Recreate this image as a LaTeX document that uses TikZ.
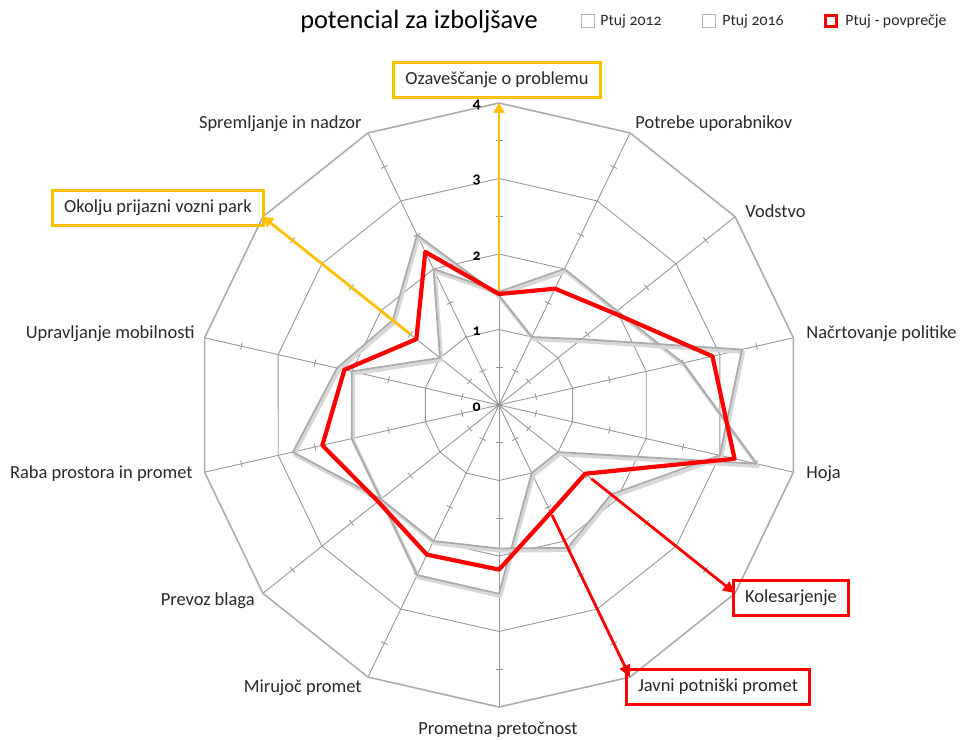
\documentclass[tikz,border=0pt]{standalone}
\usepackage{fontspec}
\setmainfont{Carlito}[Numbers=OldStyle]
\usetikzlibrary{arrows.meta}

\definecolor{ozred}{RGB}{255,0,0}
\definecolor{ozgold}{RGB}{255,192,0}
\definecolor{ozgrid}{RGB}{150,150,150}
\definecolor{ozgrey}{RGB}{170,170,170}
\definecolor{ozshade}{RGB}{215,215,215}
\definecolor{oztext}{RGB}{40,40,40}

\newcommand{\rstep}{75.5}
\newcommand{\sang}{25.7142857}

\tikzset{
  gridline/.style={draw=ozgrid, line width=0.5pt},
  outerline/.style={draw=ozgrid!80, line width=0.9pt},
  greyline/.style={draw=ozgrey, line width=1pt, line join=round},
  greyshade/.style={draw=ozshade, line width=2pt, line join=round},
  avgline/.style={draw=ozred, line width=2.4pt, line join=round},
  lbl/.style={font=\fontsize{10.5}{12}\selectfont, text=oztext, inner sep=0pt},
  markbox/.style={lbl, line width=1.7pt, inner xsep=2.4mm, minimum height=7mm},
  goldarrow/.style={draw=ozgold, line width=1.6pt, -{Triangle[length=2mm,width=2.2mm]}},
  redarrow/.style={draw=ozred, line width=1.6pt, -{Triangle[length=2.4mm,width=2.2mm]}},
  legsq/.style={draw=ozgrid!70, line width=0.6pt, minimum size=2.5mm, inner sep=0pt},
  legtext/.style={font=\fontsize{9}{10}\selectfont, text=oztext, inner sep=0pt, anchor=west},
  lvl/.style={font=\fontsize{9}{10}\selectfont\bfseries, inner sep=0pt, anchor=east}
}

\begin{document}
\begin{tikzpicture}[x=0.2mm, y=-0.2mm]
\useasboundingbox (0,0) rectangle (962,740);

% Title and legend
\node[font=\fontsize{15}{17}\selectfont, inner sep=0pt] (title) at (419,22) {potencial za izboljšave};
\node[legsq] (sqA) at (588,21) {};
\node[legtext] (legA) at (600,21) {Ptuj 2012};
\node[legsq] (sqB) at (709,21) {};
\node[legtext] (legB) at (722,21) {Ptuj 2016};
\node[legsq, draw=ozred, line width=1.5pt, minimum size=2.1mm] (sqC) at (831,21) {};
\node[legtext] (legC) at (845,21) {Ptuj - povprečje};

% Spider grid: axes with half ticks, rings 1-4
\begin{scope}[shift={(499,405)}]
  \foreach \k in {0,...,13} {
    \coordinate (ax\k) at (-90+\k*\sang:4*\rstep);
    \draw[gridline] (0,0) -- (ax\k);
    \foreach \h in {0.5,1.5,2.5,3.5}
      \draw[gridline] (-90+\k*\sang:\h*\rstep) ++(\k*\sang:3.5) -- ++(180+\k*\sang:7);
  }
  \foreach \r in {1,2,3}
    \draw[gridline] (-90:\r*\rstep) \foreach \k in {1,...,13} { -- (-90+\k*\sang:\r*\rstep) } -- cycle;
  \draw[outerline] (ax0) \foreach \k in {1,...,13} { -- (ax\k) } -- cycle;

  % data points: 2012, 2016, average
  \foreach \v [count=\k from 0] in {1.5,2.0,2.0,2.5,3.5,1.0,1.0,2.5,2.5,2.0,2.0,2.0,1.0,2.0}
    \coordinate (yrA\k) at (-90+\k*\sang:\v*\rstep);
  \foreach \v [count=\k from 0] in {1.45,1.0,1.4,3.3,3.0,1.9,2.1,1.9,2.0,2.0,2.8,2.2,1.8,2.5}
    \coordinate (yrB\k) at (-90+\k*\sang:\v*\rstep);
  \foreach \v [count=\k from 0] in {1.47,1.71,1.95,2.9,3.2,1.46,1.58,2.18,2.2,2.05,2.4,2.1,1.4,2.25}
    \coordinate (avg\k) at (-90+\k*\sang:\v*\rstep);
\end{scope}

% grey series with soft shadow
\foreach \s in {yrA,yrB} {
  \draw[greyshade] ([shift={(1.5,2.5)}]\s0) \foreach \k in {1,...,13} { -- ([shift={(1.5,2.5)}]\s\k) } -- cycle;
  \draw[greyline] (\s0) \foreach \k in {1,...,13} { -- (\s\k) } -- cycle;
}

% scale numbers
\foreach \n in {0,...,4}
  \node[lvl] (lv\n) at (481,407-\n*\rstep) {\n};

% Axis labels
\node[markbox, draw=ozgold] (ozav) at (497,80) {Ozaveščanje o problemu};
\node[lbl, anchor=west] (potrebe) at (635,124) {Potrebe uporabnikov};
\node[lbl, anchor=west] (vodstvo) at (745,211) {Vodstvo};
\node[lbl, anchor=west] (nacrt) at (806,334) {Načrtovanje politike};
\node[lbl, anchor=west] (hoja) at (806,474) {Hoja};
\node[markbox, draw=ozred] (kolo) at (791,598) {Kolesarjenje};
\node[markbox, draw=ozred] (javni) at (718,687) {Javni potniški promet};
\node[lbl] (pretok) at (498,730) {Prometna pretočnost};
\node[lbl, anchor=east] (mirujoc) at (362,688) {Mirujoč promet};
\node[lbl, anchor=east] (blago) at (255,601) {Prevoz blaga};
\node[lbl, anchor=east] (raba) at (193,474) {Raba prostora in promet};
\node[lbl, anchor=east] (upravlj) at (195,334) {Upravljanje mobilnosti};
\node[markbox, draw=ozgold] (okolje) at (158,208) {Okolju prijazni vozni park};
\node[lbl, anchor=east] (spreml) at (362,124) {Spremljanje in nadzor};

% Pointers to the marked fields
\draw[goldarrow, shorten <=0.6mm] (avg0) -- (ax0);
\draw[goldarrow, shorten <=1.6mm] (avg12) -- (ax12);
\draw[redarrow, shorten <=1.6mm] (avg5) -- (ax5);
\draw[redarrow, shorten <=0.6mm] (avg6) -- (ax6);

% average line on top
\draw[avgline] (avg0) \foreach \k in {1,...,13} { -- (avg\k) } -- cycle;
\end{tikzpicture}
\end{document}
